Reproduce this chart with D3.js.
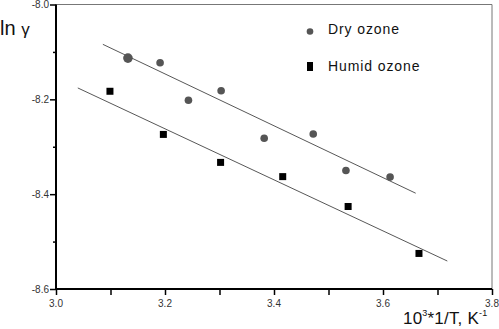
<!DOCTYPE html>
<html>
<head>
<meta charset="utf-8">
<script src="https://cdn.jsdelivr.net/npm/d3@7"></script>
<style>
  body { margin: 0; background: #fff; }
  svg { display: block; }
  text { font-family: "Liberation Sans", Arial, sans-serif; }
</style>
</head>
<body>
<div id="chart"></div>
<script>
// Dry ozone measurements
const dryX = [3.132, 3.191, 3.243, 3.303, 3.382, 3.472, 3.532, 3.613];
const dryY = [-8.113, -8.123, -8.202, -8.182, -8.282, -8.273, -8.350, -8.364];
// Humid ozone measurements
const humidX = [3.099, 3.197, 3.302, 3.416, 3.536, 3.666];
const humidY = [-8.183, -8.274, -8.333, -8.363, -8.426, -8.525];
// Linear fits (endpoints)
const dryFitX = [3.086, 3.660];
const dryFitY = [-8.084, -8.398];
const humidFitX = [3.040, 3.718];
const humidFitY = [-8.176, -8.541];

const xTicks = [3.0, 3.2, 3.4, 3.6, 3.8];
const yTicks = [-8.0, -8.2, -8.4, -8.6];

const width = 499, height = 329;
const mLeft = 56, mRight = 492, mTop = 4.5, mBottom = 289;

const svg = d3.select("#chart").append("svg")
    .attr("width", width)
    .attr("height", height);

const x = d3.scaleLinear().domain([3.0, 3.8]).range([mLeft, mRight]);
const y = d3.scaleLinear().domain([-8.6, -8.0]).range([mBottom, mTop]);

// frame (top and right, thin gray)
svg.append("path")
    .attr("d", `M${mLeft},${mTop}H${mRight}V${mBottom}`)
    .attr("fill", "none")
    .attr("stroke", "#777")
    .attr("stroke-width", 1);

// bottom axis
const xAxis = svg.append("g")
    .attr("transform", `translate(0,${mBottom})`);
xAxis.call(d3.axisBottom(x).tickValues(d3.range(3.0, 3.81, 0.1)).tickSize(6).tickFormat(""))
    .call(g => g.select(".domain").remove());
xAxis.selectAll("line").attr("stroke", "#000").attr("stroke-width", 1.5);
xAxis.selectAll(".lbl").data(xTicks).join("text")
    .attr("class", "lbl")
    .attr("x", d => x(d))
    .attr("y", 18)
    .attr("text-anchor", "middle")
    .attr("font-size", 10)
    .attr("fill", "#333")
    .text(d => d.toFixed(1));

// left axis
const yAxis = svg.append("g")
    .attr("transform", `translate(${mLeft},0)`);
yAxis.call(d3.axisLeft(y).tickValues(d3.range(-8.6, -7.99, 0.1)).tickSize(3).tickFormat(""))
    .call(g => g.select(".domain").remove());
yAxis.selectAll(".tick line")
    .attr("stroke", "#000")
    .attr("stroke-width", 1.5)
    .attr("x2", (d, i) => (i % 2 === 0 ? -6 : -3));
yAxis.selectAll(".lbl").data(yTicks).join("text")
    .attr("class", "lbl")
    .attr("x", -7)
    .attr("y", d => y(d) + 3.5)
    .attr("text-anchor", "end")
    .attr("font-size", 10)
    .attr("fill", "#333")
    .text(d => d.toFixed(1));

// thick axis lines
svg.append("path")
    .attr("d", `M${mLeft},${mTop}V${mBottom}H${mRight}`)
    .attr("fill", "none")
    .attr("stroke", "#000")
    .attr("stroke-width", 2);

// fit lines
const line = d3.line().x(d => x(d[0])).y(d => y(d[1]));
svg.append("path")
    .attr("d", line(d3.zip(dryFitX, dryFitY)))
    .attr("stroke", "#444").attr("stroke-width", 0.9).attr("fill", "none");
svg.append("path")
    .attr("d", line(d3.zip(humidFitX, humidFitY)))
    .attr("stroke", "#444").attr("stroke-width", 0.9).attr("fill", "none");

// dry points
svg.append("g").selectAll("circle")
    .data(d3.zip(dryX, dryY))
    .join("circle")
    .attr("cx", d => x(d[0]))
    .attr("cy", d => y(d[1]))
    .attr("r", (d, i) => (i === 0 ? 4.8 : 3.8))
    .attr("fill", "#555");

// humid points
svg.append("g").selectAll("rect")
    .data(d3.zip(humidX, humidY))
    .join("rect")
    .attr("x", d => x(d[0]) - 3.5)
    .attr("y", d => y(d[1]) - 3.5)
    .attr("width", 7)
    .attr("height", 7)
    .attr("fill", "#000");

// legend
svg.append("circle").attr("cx", 310).attr("cy", 31.5).attr("r", 3.3).attr("fill", "#555");
svg.append("text").attr("x", 328).attr("y", 34).attr("font-size", 14)
    .attr("letter-spacing", 0.9).attr("fill", "#111").text("Dry ozone");
svg.append("rect").attr("x", 307).attr("y", 62).attr("width", 6).attr("height", 9).attr("fill", "#000");
svg.append("text").attr("x", 328).attr("y", 71).attr("font-size", 14)
    .attr("letter-spacing", 0.9).attr("fill", "#111").text("Humid ozone");

// axis titles
const yt = svg.append("text").attr("x", 0).attr("y", 35).attr("fill", "#111");
yt.append("tspan").attr("font-size", 20).text("ln ");
yt.append("tspan").attr("font-size", 17).text("γ");
const xt = svg.append("text").attr("x", 403).attr("y", 324).attr("font-size", 17)
    .attr("letter-spacing", 0.2).attr("fill", "#111");
xt.append("tspan").text("10");
xt.append("tspan").attr("dy", -8).attr("font-size", 9).text("3");
xt.append("tspan").attr("dy", 8).text("*1/T, K");
xt.append("tspan").attr("dy", -8).attr("font-size", 9).text("-1");
</script>
</body>
</html>
